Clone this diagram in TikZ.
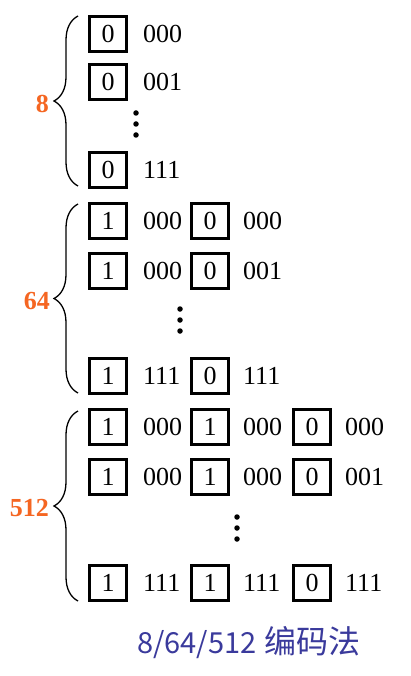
\documentclass[tikz,border=0pt]{standalone}
\usepackage{fontspec}
\setmainfont{Liberation Serif}
\newfontfamily\cjkfont{Noto Sans CJK SC}
\usetikzlibrary{decorations.pathreplacing}
\definecolor{cntorange}{RGB}{245,102,34}
\definecolor{capblue}{RGB}{58,58,156}
\tikzset{
  bitbox/.style={draw, line width=2.6pt, minimum width=37pt, minimum height=35pt,
    inner sep=0pt, font=\fontsize{26}{30}\selectfont},
  bits/.style={anchor=west, inner sep=0pt, font=\fontsize{26}{30}\selectfont},
  grpbrace/.style={decorate, decoration={brace, amplitude=24pt}, line width=1.3pt},
  cnt/.style={anchor=east, inner sep=0pt, text=cntorange, font=\bfseries\fontsize{26}{30}\selectfont},
  vdot/.style={circle, fill, inner sep=0pt, minimum size=5.5pt}
}

\begin{document}
\begin{tikzpicture}[x=1pt,y=-1pt]
 \useasboundingbox[fill=white] (0,0) rectangle (410,676);
 % 8
 \node[bitbox] (a1b1) at (108,34) {0};
 \node[bits] (a1t1) at (143,34) {000};
 \node[bitbox] (a2b1) at (108,82) {0};
 \node[bits] (a2t1) at (143,82) {001};
 \node[vdot] (ad1) at (136,113) {};
 \node[vdot] (ad2) at (136,124) {};
 \node[vdot] (ad3) at (136,135) {};
 \node[bitbox] (a3b1) at (108,170) {0};
 \node[bits] (a3t1) at (143,170) {111};
 \coordinate (abot) at (78,186);
 \coordinate (atop) at (78,16);
 \draw[grpbrace] (abot) -- (atop);
 \node[cnt] (acnt) at (49,104) {8};
%
 % 64
 \node[bitbox] (b1b1) at (108,221) {1};
 \node[bits] (b1t1) at (143,221) {000};
 \node[bitbox] (b1b2) at (210,221) {0};
 \node[bits] (b1t2) at (243,221) {000};
 \node[bitbox] (b2b1) at (108,271) {1};
 \node[bits] (b2t1) at (143,271) {000};
 \node[bitbox] (b2b2) at (210,271) {0};
 \node[bits] (b2t2) at (243,271) {001};
 \node[vdot] (bd1) at (180,309) {};
 \node[vdot] (bd2) at (180,320) {};
 \node[vdot] (bd3) at (180,331) {};
 \node[bitbox] (b3b1) at (108,376) {1};
 \node[bits] (b3t1) at (143,376) {111};
 \node[bitbox] (b3b2) at (210,376) {0};
 \node[bits] (b3t2) at (243,376) {111};
 \coordinate (bbot) at (78,393);
 \coordinate (btop) at (78,204);
 \draw[grpbrace] (bbot) -- (btop);
 \node[cnt] (bcnt) at (50,301) {64};
%
 % 512
 \node[bitbox] (c1b1) at (108,427) {1};
 \node[bits] (c1t1) at (143,427) {000};
 \node[bitbox] (c1b2) at (210,427) {1};
 \node[bits] (c1t2) at (243,427) {000};
 \node[bitbox] (c1b3) at (312,427) {0};
 \node[bits] (c1t3) at (345,427) {000};
 \node[bitbox] (c2b1) at (108,477) {1};
 \node[bits] (c2t1) at (143,477) {000};
 \node[bitbox] (c2b2) at (210,477) {1};
 \node[bits] (c2t2) at (243,477) {000};
 \node[bitbox] (c2b3) at (312,477) {0};
 \node[bits] (c2t3) at (345,477) {001};
 \node[vdot] (cd1) at (237,517) {};
 \node[vdot] (cd2) at (237,528) {};
 \node[vdot] (cd3) at (237,539) {};
 \node[bitbox] (c3b1) at (108,583) {1};
 \node[bits] (c3t1) at (143,583) {111};
 \node[bitbox] (c3b2) at (210,583) {1};
 \node[bits] (c3t2) at (243,583) {111};
 \node[bitbox] (c3b3) at (312,583) {0};
 \node[bits] (c3t3) at (345,583) {111};
 \coordinate (cbot) at (78,601);
 \coordinate (ctop) at (78,411);
 \draw[grpbrace] (cbot) -- (ctop);
 \node[cnt] (ccnt) at (49,508) {512};
%
 \node[anchor=west, inner sep=0pt, text=capblue, font=\cjkfont\fontsize{29}{33}\selectfont]
   (cap) at (137,643) {8/64/512\hspace{8pt}{\fontsize{32}{35}\selectfont 编码法}};
\end{tikzpicture}
\end{document}
